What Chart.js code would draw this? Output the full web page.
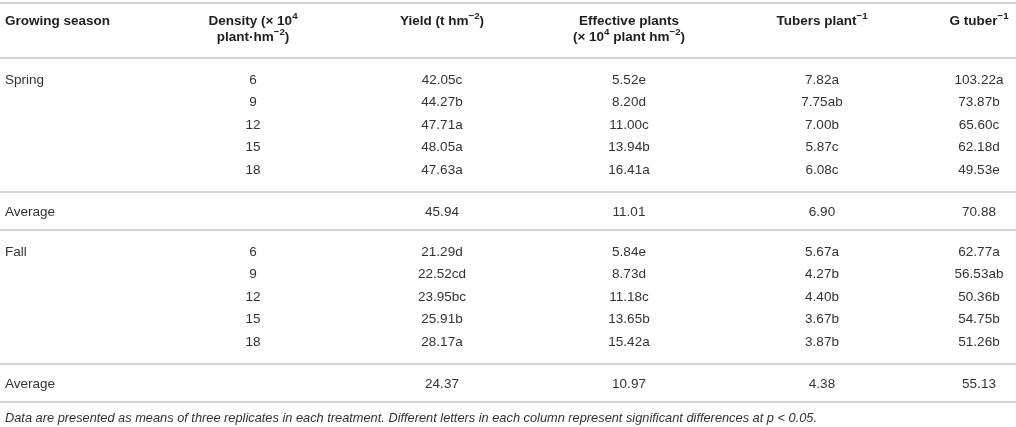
<!DOCTYPE html>
<html>
<head>
<meta charset="utf-8">
<script src="https://cdn.jsdelivr.net/npm/chart.js@4.4.1/dist/chart.umd.min.js"></script>
<style>
html,body{margin:0;padding:0;background:#ffffff;}
#wrap{width:1016px;height:427px;}
canvas{display:block;}
</style>
</head>
<body>
<div id="wrap"><canvas id="c" width="1016" height="427"></canvas></div>
<script>
// ---------- data ----------
const columnHeaders = [
  ["Growing season"],
  ["Density (× 10^{4}", "plant·hm^{−2})"],
  ["Yield (t hm^{−2})"],
  ["Effective plants", "(× 10^{4} plant hm^{−2})"],
  ["Tubers plant^{−1}"],
  ["G tuber^{−1}"]
];
const seasons = ["Spring", "Fall"];
const densityLevels = ["6", "9", "12", "15", "18"];
const yieldSpring  = ["42.05c", "44.27b", "47.71a", "48.05a", "47.63a"];
const yieldFall    = ["21.29d", "22.52cd", "23.95bc", "25.91b", "28.17a"];
const plantsSpring = ["5.52e", "8.20d", "11.00c", "13.94b", "16.41a"];
const plantsFall   = ["5.84e", "8.73d", "11.18c", "13.65b", "15.42a"];
const tubersSpring = ["7.82a", "7.75ab", "7.00b", "5.87c", "6.08c"];
const tubersFall   = ["5.67a", "4.27b", "4.40b", "3.67b", "3.87b"];
const weightSpring = ["103.22a", "73.87b", "65.60c", "62.18d", "49.53e"];
const weightFall   = ["62.77a", "56.53ab", "50.36b", "54.75b", "51.26b"];
const averageSpring = ["45.94", "11.01", "6.90", "70.88"];
const averageFall   = ["24.37", "10.97", "4.38", "55.13"];
const averageLabel = "Average";
const footnote = "Data are presented as means of three replicates in each treatment. Different letters in each column represent significant differences at p < 0.05.";

// ---------- layout ----------
const W = 1016, H = 427;
const colX = [5, 253, 442, 629, 822, 979];
const colAlign = ["left", "center", "center", "center", "center", "center"];
const FONT = '"Liberation Sans", Arial, Helvetica, sans-serif';
const styles = {
  head: {font: "bold", size: 13.5, color: "#1e1e1e"},
  body: {font: "", size: 13.5, color: "#333333"},
  note: {font: "italic", size: 12.8, color: "#333333"}
};
const ROW = 22.5;
const topRule = 3;
const headerLineY = [21, 37];
const headerRule = 58;

const cells = [];
const rules = [topRule, headerRule];

columnHeaders.forEach((lines, c) => {
  lines.forEach((t, li) => cells.push({x: colX[c], y: headerLineY[li], text: t, align: colAlign[c], style: "head"}));
});

const groups = [
  {name: seasons[0], cols: [yieldSpring, plantsSpring, tubersSpring, weightSpring], avg: averageSpring},
  {name: seasons[1], cols: [yieldFall, plantsFall, tubersFall, weightFall], avg: averageFall}
];
let rule = headerRule;
groups.forEach(g => {
  const first = rule + 22;
  densityLevels.forEach((d, r) => {
    const y = first + r * ROW;
    if (r === 0) cells.push({x: colX[0], y, text: g.name, align: "left", style: "body"});
    cells.push({x: colX[1], y, text: d, align: "center", style: "body"});
    g.cols.forEach((col, k) => cells.push({x: colX[k + 2], y, text: col[r], align: "center", style: "body"}));
  });
  rule = first + (densityLevels.length - 1) * ROW + 22;
  rules.push(rule);
  const ay = rule + 20;
  cells.push({x: colX[0], y: ay, text: averageLabel, align: "left", style: "body"});
  g.avg.forEach((v, k) => cells.push({x: colX[k + 2], y: ay, text: v, align: "center", style: "body"}));
  rule = rule + 38;
  rules.push(rule);
});
cells.push({x: colX[0], y: rule + 16, text: footnote, align: "left", style: "note"});

// ---------- rich text drawing ----------
function parseRich(t) {
  const segs = [];
  const re = /\^\{([^}]*)\}/g;
  let last = 0, m;
  while ((m = re.exec(t)) !== null) {
    if (m.index > last) segs.push({t: t.slice(last, m.index), sup: false});
    segs.push({t: m[1], sup: true});
    last = re.lastIndex;
  }
  if (last < t.length) segs.push({t: t.slice(last), sup: false});
  return segs;
}
function fontFor(st, sup) {
  const s = sup ? st.size * 0.72 : st.size;
  return (st.font ? st.font + " " : "") + s + "px " + FONT;
}
function drawRich(ctx, text, x, y, align, st) {
  const segs = parseRich(text);
  let total = 0;
  segs.forEach(s => { ctx.font = fontFor(st, s.sup); s.w = ctx.measureText(s.t).width; total += s.w; });
  let cx = align === "center" ? x - total / 2 : (align === "right" ? x - total : x);
  ctx.fillStyle = st.color;
  ctx.textAlign = "left";
  ctx.textBaseline = "middle";
  segs.forEach(s => {
    ctx.font = fontFor(st, s.sup);
    ctx.fillText(s.t, cx, s.sup ? y - st.size * 0.36 : y);
    cx += s.w;
  });
}

const tableText = {
  id: "tableText",
  afterDatasetsDraw(chart) {
    const ctx = chart.ctx;
    ctx.save();
    chart.data.datasets.forEach((ds, di) => {
      if (!ds.isText) return;
      const meta = chart.getDatasetMeta(di);
      meta.data.forEach((el, i) => {
        const d = ds.data[i];
        drawRich(ctx, d.text, el.x, el.y, d.align, styles[d.style]);
      });
    });
    ctx.restore();
  }
};

const datasets = rules.map(y => ({
  data: [{x: 0, y}, {x: W, y}],
  showLine: true,
  borderColor: "#c4c4c4",
  borderWidth: 1.6,
  pointRadius: 0,
  fill: false
}));
datasets.push({isText: true, data: cells, pointRadius: 0, showLine: false, backgroundColor: "rgba(0,0,0,0)", borderColor: "rgba(0,0,0,0)"});

new Chart(document.getElementById("c"), {
  type: "scatter",
  data: {datasets},
  options: {
    responsive: false,
    animation: false,
    events: [],
    layout: {padding: 0},
    plugins: {legend: {display: false}, tooltip: {enabled: false}, title: {display: false}},
    scales: {
      x: {type: "linear", min: 0, max: W, display: false},
      y: {type: "linear", min: 0, max: H, reverse: true, display: false}
    }
  },
  plugins: [tableText]
});
</script>
</body>
</html>
